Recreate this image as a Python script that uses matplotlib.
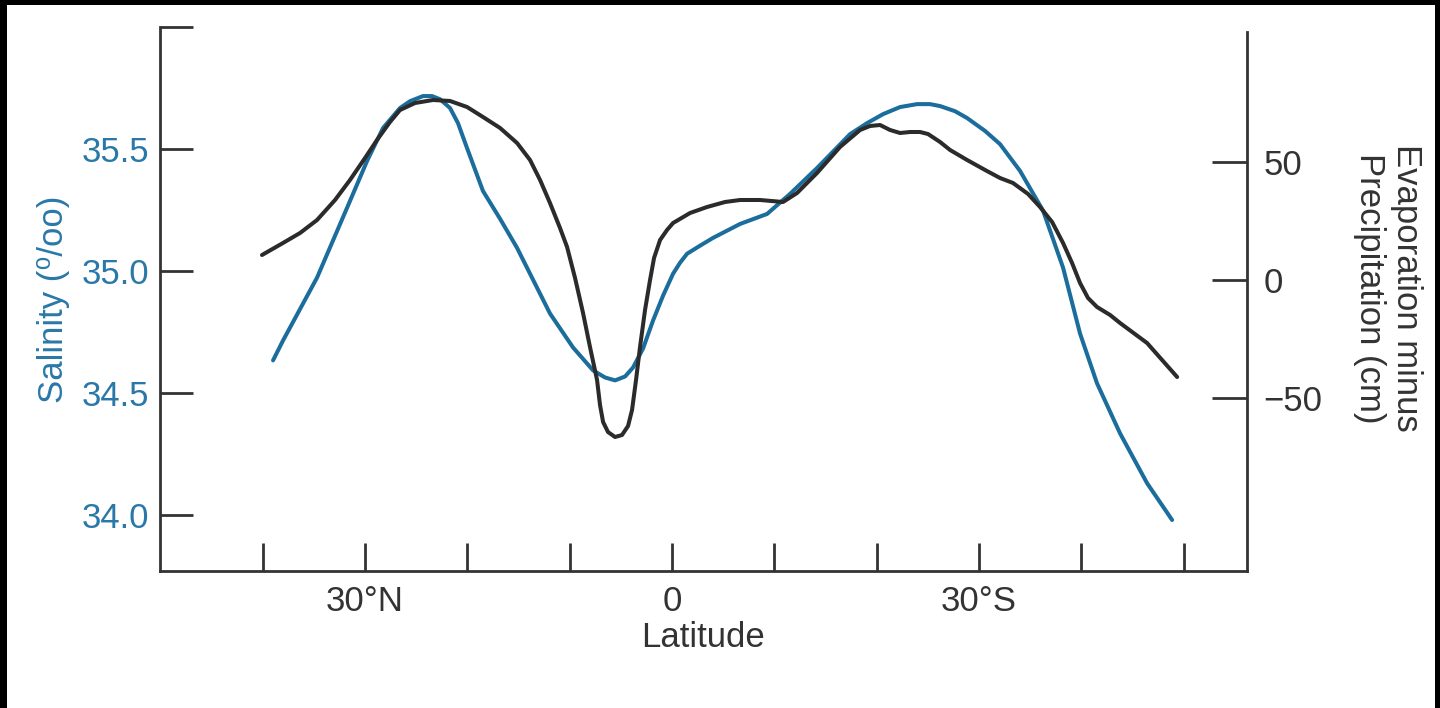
import numpy as np
import matplotlib
matplotlib.use('Agg')
from matplotlib import pyplot as plt
from matplotlib.patches import Rectangle

# latitude in degrees, north negative (left), south positive (right)
sal_lat = [-39.00, -38.03, -34.70, -31.48, -29.81, -28.25, -26.59, -25.61, -24.34, -23.46,
           -22.68, -21.70, -20.92, -20.04, -18.48, -16.81, -15.15, -11.93, -9.68, -7.72,
           -6.55, -5.57, -4.59, -3.81, -2.83, -1.86, -0.88, 0.10, 0.78, 1.47,
           2.74, 4.01, 6.65, 9.29, 11.53, 14.17, 17.40, 19.06, 20.63, 22.29,
           23.95, 25.22, 26.20, 27.66, 28.84, 30.60, 32.06, 34.02, 36.27, 38.22,
           39.88, 41.54, 43.79, 46.43, 48.88]
salinity = [34.634, 34.715, 34.973, 35.287, 35.451, 35.586, 35.668, 35.696, 35.717, 35.717,
            35.704, 35.668, 35.606, 35.504, 35.328, 35.214, 35.095, 34.826, 34.687, 34.593,
            34.564, 34.552, 34.568, 34.605, 34.683, 34.797, 34.899, 34.989, 35.034, 35.071,
            35.104, 35.136, 35.193, 35.234, 35.316, 35.422, 35.561, 35.606, 35.643, 35.672,
            35.684, 35.684, 35.676, 35.655, 35.627, 35.574, 35.520, 35.410, 35.247, 35.014,
            34.744, 34.540, 34.335, 34.131, 33.980]

ep_lat = [-40.08, -38.03, -36.36, -34.70, -32.94, -31.48, -30.01, -28.84, -27.57, -26.59,
          -25.12, -23.36, -21.70, -20.04, -18.48, -16.81, -15.15, -13.88, -12.90, -11.93,
          -10.95, -10.26, -9.48, -8.70, -8.02, -7.33, -7.04, -6.74, -6.26, -5.57,
          -4.89, -4.30, -3.91, -3.52, -3.13, -2.64, -2.15, -1.76, -1.17, -0.49,
          0.10, 1.76, 3.42, 5.18, 6.65, 8.60, 10.85, 12.22, 14.17, 16.42,
          18.38, 19.35, 20.33, 21.31, 22.29, 23.26, 24.24, 25.02, 26.20, 27.18,
          28.84, 30.60, 32.06, 33.33, 34.80, 35.97, 37.15, 38.22, 39.10, 39.88,
          40.66, 41.54, 42.82, 43.79, 46.43, 49.37]
evap_minus_precip = [10.59, 15.68, 19.92, 25.42, 33.90, 42.37, 51.69, 59.32, 66.95, 72.03,
                     75.00, 76.27, 75.85, 73.31, 69.07, 64.41, 58.05, 50.85, 42.37, 32.63,
                     22.03, 13.98, 0.85, -13.98, -28.39, -42.37, -52.97, -60.17, -64.41, -66.53,
                     -65.68, -61.86, -55.08, -42.37, -28.39, -12.71, 0.00, 9.32, 16.95, 21.19,
                     24.15, 28.39, 30.93, 33.05, 33.90, 33.90, 33.05, 36.86, 45.34, 56.36,
                     63.56, 65.25, 65.68, 63.56, 62.29, 62.71, 62.71, 61.86, 58.47, 55.08,
                     50.85, 46.61, 43.22, 41.10, 36.44, 30.93, 24.58, 15.68, 7.20, -1.27,
                     -7.63, -11.44, -14.83, -18.22, -26.69, -41.10]

lat_ticks = [-40, -30, -20, -10, 0, 10, 20, 30, 40, 50]
lat_labels = ['', '30°N', '', '', '0', '', '', '30°S', '', '']
sal_ticks = [34.0, 34.5, 35.0, 35.5, 36.0]
sal_labels = ['34.0', '34.5', '35.0', '35.5', '']
ep_ticks = [-50, 0, 50]
ep_labels = ['\u221250', '0', '50']

blue = '#1b6d9b'
blue_text = '#2a78a8'
dark = '#2b2b2b'
axis_col = '#333333'
fs = 25

plt.rcParams['font.family'] = ['Liberation Sans', 'DejaVu Sans']

fig = plt.figure(figsize=(14.4, 7.08), dpi=100)
fig.patch.set_facecolor('white')

ax = fig.add_axes([160/1440, 1 - 571/708, (1247-160)/1440, (571-27)/708])
ax2 = ax.twinx()

ax.plot(sal_lat, salinity, color=blue, lw=2.9, solid_joinstyle='round', solid_capstyle='round', zorder=3)
ax2.plot(ep_lat, evap_minus_precip, color=dark, lw=2.9, solid_joinstyle='round', solid_capstyle='round', zorder=3)

ax.set_xlim(-50.05, 56.2)
ax.set_ylim(33.771, 36.0)
ax2.set_ylim(-123.3, 107.2)

for a in (ax, ax2):
    a.spines['top'].set_visible(False)
    for s in ('left', 'right', 'bottom'):
        a.spines[s].set_color(axis_col)
        a.spines[s].set_linewidth(2.0)
ax.spines['right'].set_visible(False)
ax2.spines['left'].set_visible(False)
ax2.spines['bottom'].set_visible(False)
ax2.spines['right'].set_bounds(-123.3, 105.0)

ax.set_xticks(lat_ticks)
ax.set_xticklabels(lat_labels)
ax.tick_params(axis='x', direction='in', length=20, width=2.0, color=axis_col,
               labelsize=fs, labelcolor=axis_col, pad=10)

ax.set_yticks(sal_ticks)
ax.set_yticklabels(sal_labels)
ax.tick_params(axis='y', direction='in', length=24, width=2.0, color=axis_col,
               labelsize=fs, labelcolor=blue_text, pad=8)

ax2.set_yticks(ep_ticks)
ax2.set_yticklabels(ep_labels)
ax2.tick_params(axis='y', direction='in', length=25, width=2.0, color=axis_col,
                labelsize=fs, labelcolor=axis_col, pad=12)

ax.set_xlabel('Latitude', fontsize=fs, color=axis_col, labelpad=2)
ax.set_ylabel('Salinity (\u2070/oo)', fontsize=fs, color=blue_text, labelpad=8)
fig.text(1388/1440, 1 - 288/708, 'Evaporation minus\nPrecipitation (cm)', rotation=270,
         fontsize=fs, color=axis_col, ha='center', va='center', multialignment='center',
         linespacing=1.15)

# black scan border
for rect in [(0, 1 - 5/708, 1, 5/708), (0, 0, 7/1440, 1), (1 - 5/1440, 0, 5/1440, 1)]:
    fig.patches.append(Rectangle(rect[:2], rect[2], rect[3], transform=fig.transFigure,
                                 facecolor='black', edgecolor='none', lw=0, zorder=10))

plt.savefig('out.png', dpi=100)
